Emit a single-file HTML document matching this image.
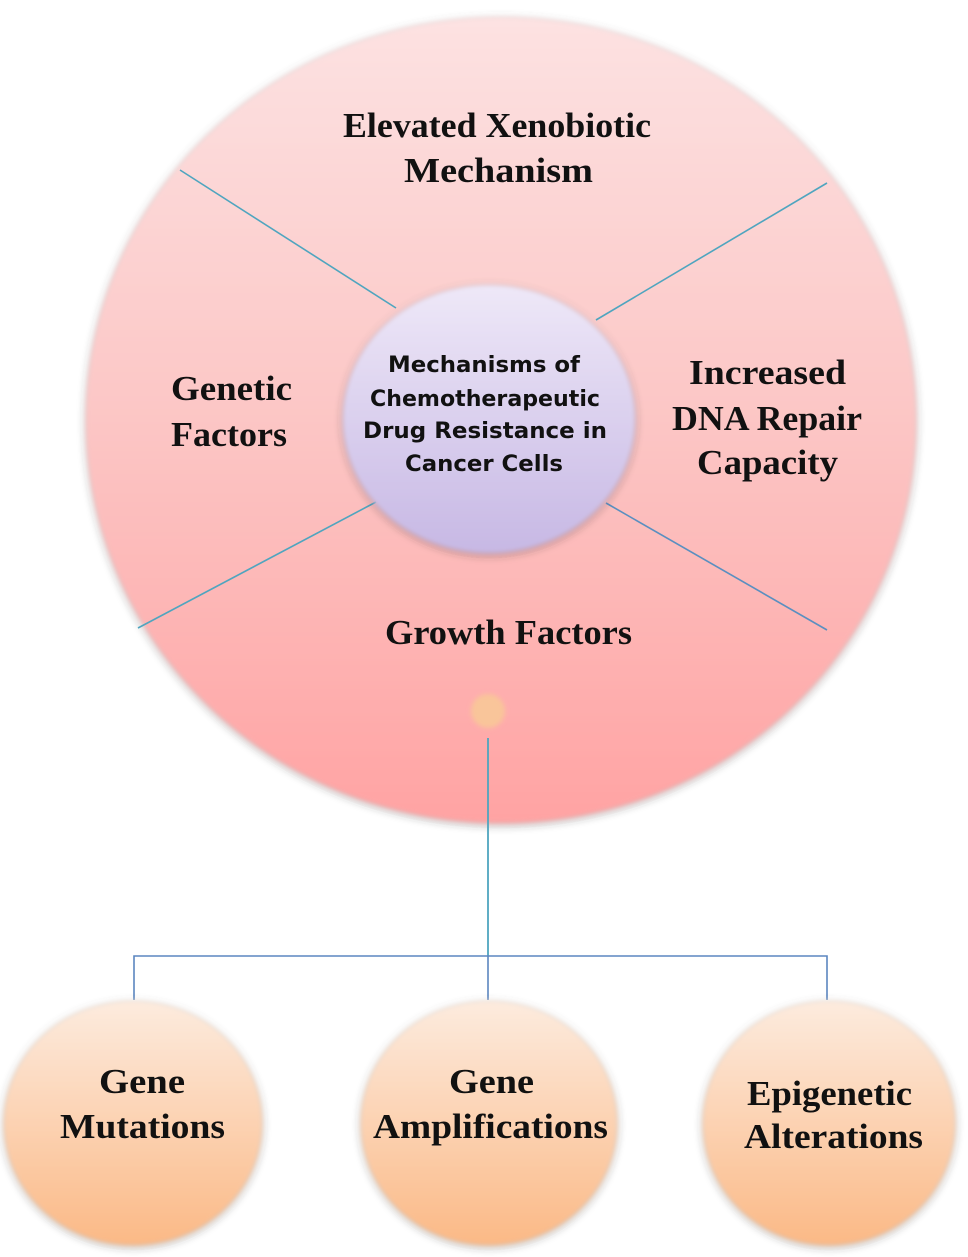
<!DOCTYPE html>
<html>
<head>
<meta charset="utf-8">
<style>
html,body{margin:0;padding:0;background:#fff;}
svg{display:block;}
.lbl{font-family:"Liberation Serif",serif;font-weight:bold;font-size:35px;fill:#111;}
.ctr{font-family:"DejaVu Sans","Liberation Sans",sans-serif;font-weight:bold;font-size:22px;fill:#111;}
</style>
</head>
<body>
<svg width="968" height="1257" viewBox="0 0 968 1257" xmlns="http://www.w3.org/2000/svg">
<defs>
<linearGradient id="pink" x1="0" y1="0" x2="0" y2="1">
<stop offset="0" stop-color="#fde2e2"/>
<stop offset="0.5" stop-color="#fcc6c5"/>
<stop offset="1" stop-color="#ffa3a3"/>
</linearGradient>
<linearGradient id="lav" x1="0" y1="0" x2="0" y2="1">
<stop offset="0" stop-color="#eee8f8"/>
<stop offset="1" stop-color="#c7b8e4"/>
</linearGradient>
<linearGradient id="peach" x1="0" y1="0" x2="0" y2="1">
<stop offset="0" stop-color="#fdebde"/>
<stop offset="1" stop-color="#fbb986"/>
</linearGradient>
<filter id="soft" x="-10%" y="-10%" width="120%" height="120%">
<feGaussianBlur in="SourceAlpha" stdDeviation="4.5" result="b"/>
<feOffset in="b" dx="0" dy="2" result="o"/>
<feFlood flood-color="#333" flood-opacity="0.45"/>
<feComposite in2="o" operator="in" result="sh"/>
<feGaussianBlur in="SourceGraphic" stdDeviation="2.2" result="g"/>
<feMerge><feMergeNode in="sh"/><feMergeNode in="g"/></feMerge>
</filter>
<filter id="softsm" x="-50%" y="-50%" width="200%" height="200%">
<feGaussianBlur in="SourceGraphic" stdDeviation="2.5"/>
</filter>
</defs>

<!-- big circle -->
<ellipse cx="501" cy="420" rx="415" ry="403" fill="url(#pink)" filter="url(#soft)"/>

<!-- spokes -->
<g stroke="#4fa5bf" stroke-width="1.6" fill="none">
<line x1="180" y1="170" x2="396" y2="308"/>
<line x1="827" y1="183" x2="596" y2="320"/>
<line x1="138" y1="628" x2="376" y2="502"/>
<line x1="606" y1="503" x2="827" y2="630" stroke="#5a8fc0"/>
</g>

<!-- center circle -->
<ellipse cx="489" cy="419" rx="146" ry="134" fill="url(#lav)" filter="url(#soft)"/>

<!-- small peach dot -->
<circle cx="488" cy="711" r="17" fill="#f9c59a" filter="url(#softsm)"/>

<!-- connectors -->
<line x1="488" y1="738" x2="488" y2="956" stroke="#4fa5bf" stroke-width="1.8"/>
<g stroke="#5b86c0" stroke-width="1.6" fill="none">
<polyline points="134,1000 134,956 827,956 827,1000"/>
<line x1="488" y1="956" x2="488" y2="1000"/>
</g>

<!-- bottom circles -->
<ellipse cx="133" cy="1123" rx="129" ry="122" fill="url(#peach)" filter="url(#soft)"/>
<ellipse cx="489" cy="1123" rx="128" ry="122" fill="url(#peach)" filter="url(#soft)"/>
<ellipse cx="829" cy="1123" rx="126" ry="122" fill="url(#peach)" filter="url(#soft)"/>

<!-- labels -->
<text class="lbl" x="343" y="137" textLength="308" lengthAdjust="spacingAndGlyphs">Elevated Xenobiotic</text>
<text class="lbl" x="404" y="182" textLength="189" lengthAdjust="spacingAndGlyphs">Mechanism</text>

<text class="lbl" x="171" y="400" textLength="121" lengthAdjust="spacingAndGlyphs">Genetic</text>
<text class="lbl" x="171" y="446" textLength="116" lengthAdjust="spacingAndGlyphs">Factors</text>

<text class="lbl" x="689" y="384" textLength="157" lengthAdjust="spacingAndGlyphs">Increased</text>
<text class="lbl" x="672" y="430" textLength="190" lengthAdjust="spacingAndGlyphs">DNA Repair</text>
<text class="lbl" x="697" y="474" textLength="141" lengthAdjust="spacingAndGlyphs">Capacity</text>

<text class="lbl" x="385" y="644" textLength="247" lengthAdjust="spacingAndGlyphs">Growth Factors</text>

<text class="ctr" x="388" y="372" textLength="192" lengthAdjust="spacingAndGlyphs">Mechanisms of</text>
<text class="ctr" x="370" y="406" textLength="230" lengthAdjust="spacingAndGlyphs">Chemotherapeutic</text>
<text class="ctr" x="363" y="438" textLength="244" lengthAdjust="spacingAndGlyphs">Drug Resistance in</text>
<text class="ctr" x="405" y="471" textLength="158" lengthAdjust="spacingAndGlyphs">Cancer Cells</text>

<text class="lbl" x="99" y="1093" textLength="86" lengthAdjust="spacingAndGlyphs">Gene</text>
<text class="lbl" x="60" y="1138" textLength="165" lengthAdjust="spacingAndGlyphs">Mutations</text>

<text class="lbl" x="449" y="1093" textLength="85" lengthAdjust="spacingAndGlyphs">Gene</text>
<text class="lbl" x="373" y="1138" textLength="235" lengthAdjust="spacingAndGlyphs">Amplifications</text>

<text class="lbl" x="747" y="1105" textLength="165" lengthAdjust="spacingAndGlyphs">Epigenetic</text>
<text class="lbl" x="744" y="1148" textLength="179" lengthAdjust="spacingAndGlyphs">Alterations</text>
</svg>
</body>
</html>
